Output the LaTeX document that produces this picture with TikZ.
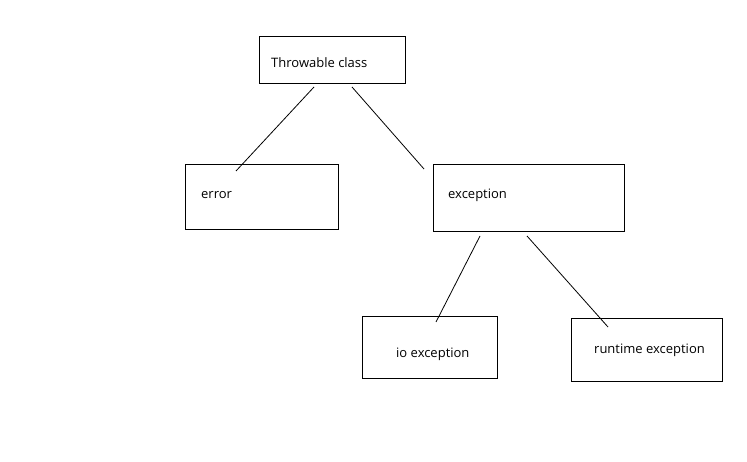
\documentclass[tikz,border=0pt]{standalone}
\usepackage{fontspec}
\setmainfont{Open Sans}
\begin{document}
\begin{tikzpicture}[x=1bp,y=-1bp,
  box/.style={draw=black,line width=0.9bp,inner sep=0pt},
  lbl/.style={anchor=west,inner sep=0pt,font=\fontsize{13bp}{15bp}\selectfont},
  link/.style={draw=black,line width=0.8bp}]
\useasboundingbox[fill=white] (0,0) rectangle (747,462);
% boxes
\node[box,minimum width=146bp,minimum height=47bp] (thr) at (332,59.5) {};
\node[box,minimum width=153bp,minimum height=65bp] (err) at (261.5,196.5) {};
\node[box,minimum width=191bp,minimum height=67bp] (exc) at (528.5,197.5) {};
\node[box,minimum width=135bp,minimum height=62bp] (io) at (429.5,347) {};
\node[box,minimum width=151bp,minimum height=63bp] (rt) at (646.5,349.5) {};
% labels
\node[lbl] (thrT) at (271,62.5) {Throwable class};
\node[lbl] (errT) at (201,195.5) {error};
\node[lbl] (excT) at (448,195.5) {exception};
\node[lbl] (ioT) at (396,354) {io exception};
\node[lbl] (rtT) at (594,350) {runtime exception};
% connector ends
\coordinate (a1) at (314,87);
\coordinate (a2) at (236,171);
\coordinate (b1) at (352,87);
\coordinate (b2) at (424,169);
\coordinate (c1) at (480,236);
\coordinate (c2) at (436,322);
\coordinate (d1) at (527,236);
\coordinate (d2) at (608,327);
\draw[link] (a1) -- (a2);
\draw[link] (b1) -- (b2);
\draw[link] (c1) -- (c2);
\draw[link] (d1) -- (d2);
\end{tikzpicture}
\end{document}
